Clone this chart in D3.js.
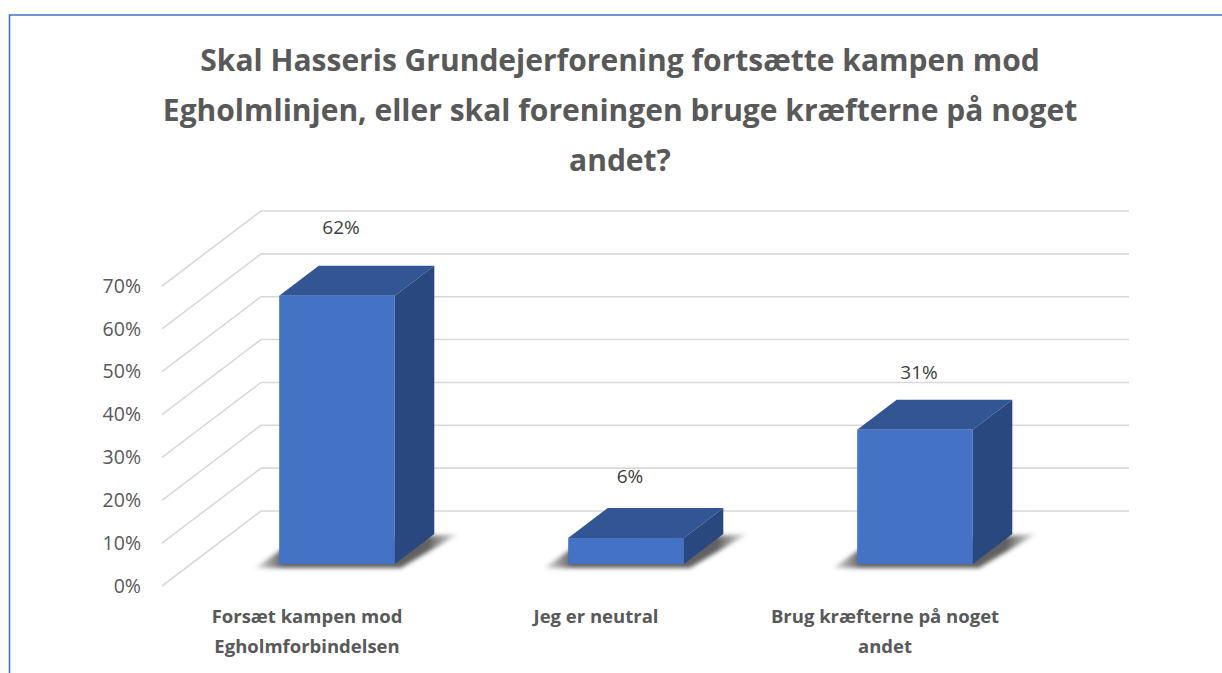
<!DOCTYPE html>
<html>
<head>
<meta charset="utf-8">
<script src="https://cdn.jsdelivr.net/npm/d3@7"></script>
<style>
  html, body { margin: 0; padding: 0; background: #fff; }
  text { font-family: "Open Sans", sans-serif; }
</style>
</head>
<body>
<div id="chart"></div>
<script>
// data
var titleLines = [
    "Skal Hasseris Grundejerforening fortsætte kampen mod",
    "Egholmlinjen, eller skal foreningen bruge kræfterne på noget",
    "andet?"
];
var categories = ["Forsæt kampen mod|Egholmforbindelsen", "Jeg er neutral", "Brug kræfterne på noget|andet"];
var values = [62, 31, 6];
values = [62, 6, 31];
var tickValues = [0, 10, 20, 30, 40, 50, 60, 70];

var width = 1222, height = 673;

var svg = d3.select("#chart").append("svg")
    .attr("width", width)
    .attr("height", height)
    .style("display", "block");

var defs = svg.append("defs");
defs.append("filter").attr("id", "soft")
    .attr("x", "-20%").attr("y", "-40%").attr("width", "140%").attr("height", "180%")
  .append("feGaussianBlur").attr("stdDeviation", 2.2);
var fade = defs.append("linearGradient").attr("id", "shadowFade");
fade.append("stop").attr("offset", "0%").attr("stop-color", "#444").attr("stop-opacity", 0.15);
fade.append("stop").attr("offset", "14%").attr("stop-color", "#444").attr("stop-opacity", 0.85);
fade.append("stop").attr("offset", "85%").attr("stop-color", "#444").attr("stop-opacity", 0.85);
fade.append("stop").attr("offset", "100%").attr("stop-color", "#444").attr("stop-opacity", 0.1);

// frame
svg.append("path")
    .attr("d", "M9.5," + height + "V15H" + width)
    .attr("fill", "none")
    .attr("stroke", "#4472c4")
    .attr("stroke-width", 1.6);

// title
svg.append("g").selectAll("text")
    .data(titleLines)
    .enter().append("text")
    .attr("x", 620)
    .attr("y", function(d, i) { return 71 + i * 50; })
    .attr("text-anchor", "middle")
    .attr("font-size", 30)
    .attr("font-weight", 700)
    .attr("fill", "#595959")
    .text(function(d) { return d; });

// the floor runs back from the front edge by this much
var wallDx = 99, wallDy = -75;
var barDx = 39.5, barDy = -30;

var y = d3.scaleLinear().domain([0, 70]).range([586, 286]);
var barY = d3.scaleLinear().domain([0, 70]).range([564, 261]);
var x = d3.scaleBand()
    .domain(categories)
    .range([192.5, 1059.5])
    .paddingInner(0.6)
    .paddingOuter(0.3);
var labelY = d3.scaleLinear().domain([6, 31, 62]).range([476, 372, 227]);

// gridlines: side wall then back wall
var gridLine = d3.line();
svg.append("g").selectAll("path")
    .data(tickValues)
    .enter().append("path")
    .attr("d", function(d) {
        return gridLine([
            [162, y(d)],
            [162 + wallDx, y(d) + wallDy],
            [1129, y(d) + wallDy]
        ]);
    })
    .attr("fill", "none")
    .attr("stroke", "#d9d9d9")
    .attr("stroke-width", 1.6);

// y axis
var yAxis = svg.append("g")
    .attr("transform", "translate(141,0)")
    .call(d3.axisLeft(y)
        .tickValues(tickValues)
        .tickSize(0)
        .tickPadding(0)
        .tickFormat(function(d) { return d + "%"; }));
yAxis.select(".domain").remove();
yAxis.selectAll("text")
    .style("font-family", '"Open Sans", sans-serif')
    .attr("font-size", 19.5)
    .attr("fill", "#595959");

// bars
var bars = svg.append("g").selectAll("g")
    .data(values)
    .enter().append("g");

var band = x.bandwidth();
function left(i) { return x(categories[i]); }

bars.append("path")
    .attr("d", function(d, i) {
        var l = left(i), b = barY(0);
        return "M" + (l - 24) + "," + (b + 4) +
            "L" + (l + 10) + "," + (b - 20) +
            "L" + (l + band + barDx + 24) + "," + (b + barDy) +
            "L" + (l + band + 6) + "," + (b + 4) + "Z";
    })
    .attr("fill", "url(#shadowFade)")
    .attr("filter", "url(#soft)");

// top face
bars.append("path")
    .attr("d", function(d, i) {
        var l = left(i), t = barY(d);
        return "M" + l + "," + t +
            "L" + (l + barDx) + "," + (t + barDy) +
            "H" + (l + band + barDx) +
            "L" + (l + band) + "," + t + "Z";
    })
    .attr("fill", "#325594");

// side face
bars.append("path")
    .attr("d", function(d, i) {
        var r = left(i) + band, t = barY(d), b = barY(0);
        return "M" + r + "," + t +
            "L" + (r + barDx) + "," + (t + barDy) +
            "V" + (b + barDy) +
            "L" + r + "," + b + "Z";
    })
    .attr("fill", "#2a4880");

// front face
bars.append("rect")
    .attr("x", function(d, i) { return left(i); })
    .attr("y", function(d) { return barY(d); })
    .attr("width", band)
    .attr("height", function(d) { return barY(0) - barY(d); })
    .attr("fill", "#4472c4");

// data labels
bars.append("text")
    .attr("x", function(d, i) { return left(i) + band / 2 + 4; })
    .attr("y", function(d) { return labelY(d); })
    .attr("dy", ".35em")
    .attr("text-anchor", "middle")
    .attr("font-size", 19)
    .attr("fill", "#404040")
    .text(function(d) { return d + "%"; });

// category labels
var cats = svg.append("g").selectAll("text")
    .data(categories)
    .enter().append("text")
    .attr("text-anchor", "middle")
    .attr("font-size", 18.5)
    .attr("font-weight", 700)
    .attr("fill", "#595959");

cats.selectAll("tspan")
    .data(function(d) {
        return d.split("|").map(function(line) { return {line: line, cat: d}; });
    })
    .enter().append("tspan")
    .attr("x", function(d) { return x(d.cat) + band / 2 - 30; })
    .attr("y", function(d, i) { return 623 + i * 30; })
    .text(function(d) { return d.line; });
</script>
</body>
</html>
